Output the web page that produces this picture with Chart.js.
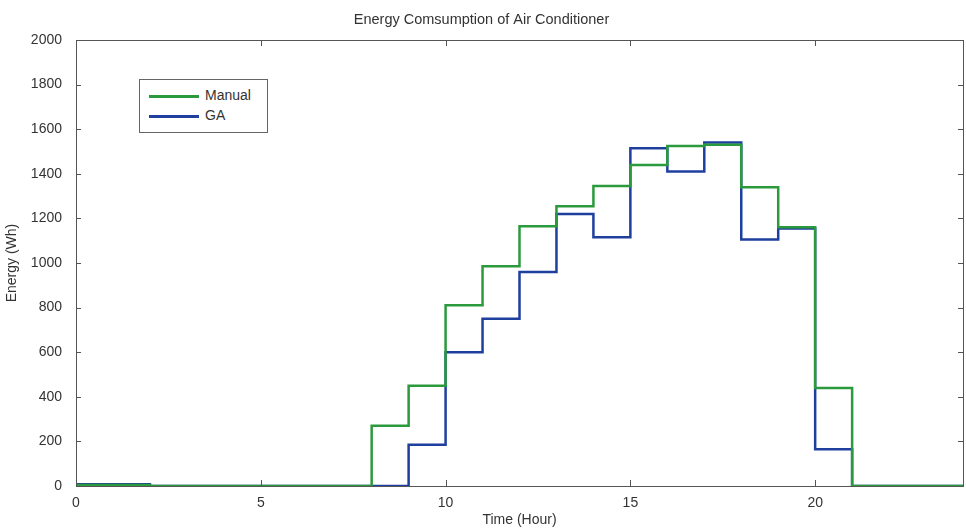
<html>
  <head>
    <title>Energy Comsumption of Air Conditioner</title>
    <script src="https://cdn.jsdelivr.net/npm/chart.js@4.4.1/dist/chart.umd.min.js"></script>
    <style>
      body {
        margin: 0;
        background-color: white;
      }
      #wrap {
        position: relative;
        width: 966px;
        height: 530px;
      }
      #legend {
        position: absolute;
        left: 139px;
        top: 79px;
        width: 127px;
        height: 52px;
        border: 1px solid #666;
        background: white;
        font-family: "Liberation Sans", Arial, sans-serif;
        font-size: 14px;
        color: #333;
      }
      .item {
        height: 20px;
        line-height: 20px;
        margin-left: 9px;
      }
      .swatch {
        display: inline-block;
        width: 50px;
        height: 0;
        border-top: 3px solid;
        vertical-align: middle;
        margin-right: 6px;
      }
    </style>
  </head>

  <body>
    <div id="wrap">
      <canvas id="chart" width="966" height="530"></canvas>
      <div id="legend">
        <div class="item" style="margin-top:5px;"><span class="swatch" style="border-color:#2b9a3c;"></span>Manual</div>
        <div class="item"><span class="swatch" style="border-color:#1f3f9f;"></span>GA</div>
      </div>
    </div>
  </body>

  <script>
    // hours 0..24, value holds from hour h until h+1
    var hours = [0,1,2,3,4,5,6,7,8,9,10,11,12,13,14,15,16,17,18,19,20,21,22,23,24];
    var manual = [5,5,0,0,0,0,0,0,270,450,810,985,1165,1255,1345,1440,1525,1530,1340,1160,440,0,0,0,0];
    var ga = [8,8,0,0,0,0,0,0,0,185,600,750,960,1220,1115,1515,1410,1540,1105,1155,165,0,0,0,0];
    var xTicks = [0,5,10,15,20];
    var yTicks = [0,200,400,600,800,1000,1200,1400,1600,1800,2000];

    function pts(vals) {
      var out = [];
      for (i=0; i<hours.length; i++) {
        out.push({x: hours[i], y: vals[i]});
      }
      return out;
    }

    // MATLAB style box with inward ticks on all four sides
    var boxTicks = {
      id: 'boxTicks',
      afterDatasetsDraw: function(chart) {
        var ctx = chart.ctx;
        var a = chart.chartArea;
        var xs = chart.scales.x;
        var ys = chart.scales.y;
        ctx.save();
        ctx.strokeStyle = '#555';
        ctx.lineWidth = 1;
        ctx.strokeRect(a.left + 0.5, a.top + 0.5, a.right - a.left, a.bottom - a.top);
        ctx.beginPath();
        for (i=0; i<yTicks.length; i++) {
          var py = Math.round(ys.getPixelForValue(yTicks[i])) + 0.5;
          ctx.moveTo(a.left, py); ctx.lineTo(a.left + 5, py);
          ctx.moveTo(a.right, py); ctx.lineTo(a.right - 5, py);
        }
        for (i=0; i<xTicks.length; i++) {
          var px = Math.round(xs.getPixelForValue(xTicks[i])) + 0.5;
          ctx.moveTo(px, a.bottom); ctx.lineTo(px, a.bottom - 6);
          ctx.moveTo(px, a.top); ctx.lineTo(px, a.top + 6);
        }
        ctx.stroke();
        ctx.restore();
      }
    };

    Chart.defaults.font.family = '"Liberation Sans", Arial, sans-serif';
    Chart.defaults.color = '#333';

    new Chart(document.getElementById('chart'), {
      type: 'line',
      data: {
        datasets: [
          {
            label: 'Manual',
            data: pts(manual),
            borderColor: '#2b9a3c',
            borderWidth: 2.5,
            stepped: 'before',
            pointRadius: 0,
            fill: false
          },
          {
            label: 'GA',
            data: pts(ga),
            borderColor: '#1f3f9f',
            borderWidth: 2.5,
            stepped: 'before',
            pointRadius: 0,
            fill: false
          }
        ]
      },
      options: {
        responsive: false,
        animation: false,
        layout: { padding: { left: 0, right: 3, top: 0, bottom: 0 } },
        plugins: {
          legend: { display: false },
          tooltip: { enabled: false },
          title: {
            display: true,
            text: 'Energy Comsumption of Air Conditioner',
            font: { size: 14.5, weight: 'normal' },
            color: '#333',
            padding: { top: 11, bottom: 11.6 }
          }
        },
        scales: {
          x: {
            type: 'linear',
            min: 0,
            max: 24,
            grid: { display: false },
            border: { display: false },
            afterBuildTicks: function(scale) {
              scale.ticks = xTicks.map(function(v) { return {value: v}; });
            },
            afterFit: function(scale) { scale.height = 44; },
            ticks: { font: { size: 14 }, padding: 1, maxRotation: 0, callback: function(v) { return String(v); } },
            title: { display: true, text: 'Time (Hour)', font: { size: 14 }, padding: { top: 2, bottom: 1 } }
          },
          y: {
            min: 0,
            max: 2000,
            grid: { display: false },
            border: { display: false },
            afterBuildTicks: function(scale) {
              scale.ticks = yTicks.map(function(v) { return {value: v}; });
            },
            afterFit: function(scale) { scale.width = 76; },
            ticks: { font: { size: 14 }, padding: 6, callback: function(v) { return String(v); } },
            title: { display: true, text: 'Energy (Wh)', font: { size: 14 }, padding: { bottom: 4 } }
          }
        }
      },
      plugins: [boxTicks]
    });
  </script>
</html>
